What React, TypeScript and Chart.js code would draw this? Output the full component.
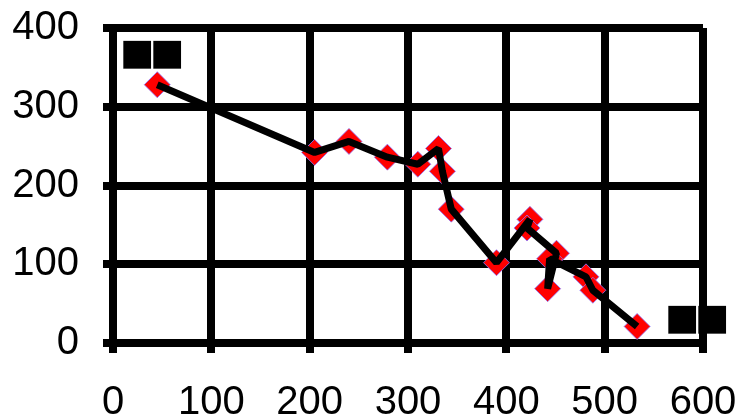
import React, { useEffect, useRef } from "react";
import { Chart, registerables } from "chart.js";

Chart.register(...registerables);

const xValues = [45, 205, 240, 279, 310, 331, 335, 344, 390, 424, 421, 451, 442, 444, 481, 488, 533];
const yValues = [328, 242, 256, 236, 227, 247, 218, 170, 102, 157, 146, 114, 69, 107, 84, 67, 21];
const xTicks = [0, 100, 200, 300, 400, 500, 600];
const yTicks = [0, 100, 200, 300, 400];
const cornerLabels = ["■■", "■■"];

function drawSquares(ctx: CanvasRenderingContext2D, text: string, x: number, y: number) {
  ctx.font = '100px "DejaVu Sans"';
  const m = ctx.measureText("■");
  const inkW = m.actualBoundingBoxLeft + m.actualBoundingBoxRight;
  const size = (28 / inkW) * 100;
  ctx.font = `${size}px "DejaVu Sans"`;
  const mm = ctx.measureText("■");
  ctx.textBaseline = "alphabetic";
  ctx.textAlign = "left";
  const chars = Array.from(text);
  chars.forEach((c, i) => {
    ctx.fillText(c, x + i * 30 + mm.actualBoundingBoxLeft, y + mm.actualBoundingBoxAscent);
  });
}

const labelPlugin = {
  id: "cornerLabels",
  beforeDraw(chart: any) {
    const ctx = chart.ctx;
    ctx.save();
    ctx.fillStyle = "#000";
    drawSquares(ctx, cornerLabels[0], 123, 40);
    drawSquares(ctx, cornerLabels[1], 668, 305);
    ctx.restore();
  },
};

function zeroPad(axis: any) {
  axis.paddingLeft = 0;
  axis.paddingRight = 0;
  axis.paddingTop = 0;
  axis.paddingBottom = 0;
}

export default function App() {
  const ref = useRef<HTMLCanvasElement>(null);
  useEffect(() => {
    const pts = xValues.map((x, i) => ({ x, y: yValues[i] }));
    const font = { family: '"Liberation Sans", Arial, sans-serif', size: 40 };
    const chart = new Chart(ref.current!, {
      type: "scatter",
      data: {
        datasets: [
          {
            data: pts,
            showLine: true,
            borderColor: "#000",
            borderWidth: 7,
            borderJoinStyle: "bevel",
            pointRadius: 0,
            order: 0,
          },
          {
            data: pts,
            showLine: false,
            pointStyle: "rectRot",
            pointRadius: 13,
            pointBackgroundColor: "#ff0000",
            pointBorderColor: "rgba(140,120,255,0.8)",
            pointBorderWidth: 1,
            order: 1,
          },
        ],
      },
      options: {
        animation: false,
        responsive: false,
        layout: { padding: { top: 28, right: 35, left: 0, bottom: 0 } },
        plugins: { legend: { display: false }, tooltip: { enabled: false } },
        scales: {
          x: {
            type: "linear",
            min: 0,
            max: 600,
            afterBuildTicks: (axis: any) => {
              axis.ticks = xTicks.map((v) => ({ value: v }));
            },
            afterFit: (axis: any) => {
              axis.height = 74;
              zeroPad(axis);
            },
            grid: { color: "#000", lineWidth: 8, tickLength: 10, drawTicks: true },
            border: { display: true, color: "#000", width: 8 },
            ticks: { color: "#000", font, padding: 26, maxRotation: 0 },
          },
          y: {
            type: "linear",
            min: 0,
            max: 400,
            afterBuildTicks: (axis: any) => {
              axis.ticks = yTicks.map((v) => ({ value: v }));
            },
            afterFit: (axis: any) => {
              axis.width = 113;
              zeroPad(axis);
            },
            grid: { color: "#000", lineWidth: 8, tickLength: 10, drawTicks: true },
            border: { display: true, color: "#000", width: 8 },
            ticks: { color: "#000", font, padding: 24 },
          },
        },
      },
      plugins: [labelPlugin],
    });
    return () => chart.destroy();
  }, []);
  return (
    <div style={{ position: "fixed", left: 0, top: 0, width: 738, height: 417, background: "#fff" }}>
      <canvas ref={ref} width={738} height={417} style={{ width: 738, height: 417 }} />
    </div>
  );
}
